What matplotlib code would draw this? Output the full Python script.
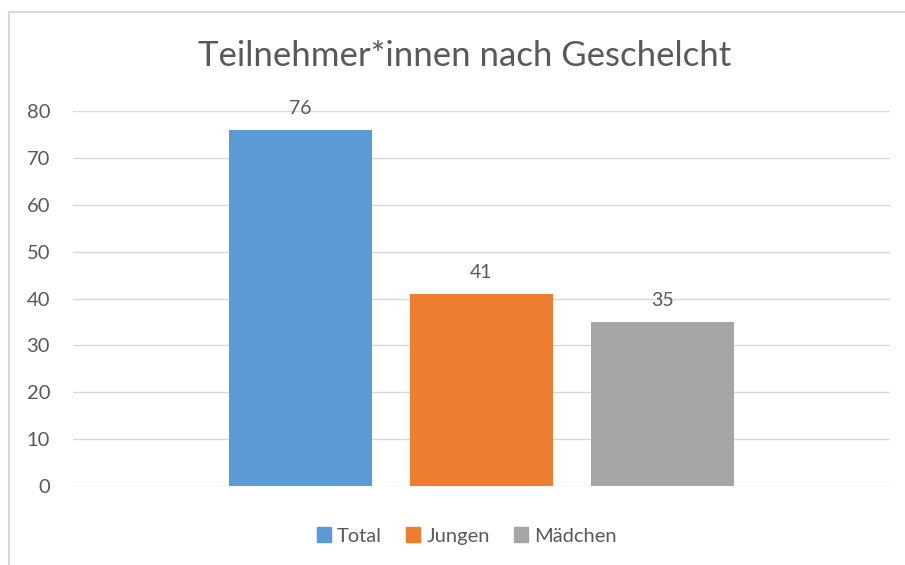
import numpy as np
import matplotlib.pyplot as plt
from matplotlib.patches import Rectangle, Patch

series = ["Total", "Jungen", "Mädchen"]
values = [76, 41, 35]
colors = ["#5B9BD5", "#ED7D31", "#A5A5A5"]
title = "Teilnehmer*innen nach Geschelcht"
yticks = [0, 10, 20, 30, 40, 50, 60, 70, 80]

plt.rcParams['font.family'] = ['Lato', 'DejaVu Sans']
txt = "#595959"

fig = plt.figure(figsize=(9.05, 5.65), dpi=100)
# chart border (cut off at right and bottom like the screenshot)
fig.patches.append(Rectangle((8.5 / 905, -0.1), 1.2, 1 - 12 / 565 + 0.1,
                             transform=fig.transFigure, fill=False,
                             edgecolor="#D9D9D9", linewidth=1.5))

ax = fig.add_axes([73 / 905, 1 - 486 / 565, 817 / 905, 375 / 565])
x = np.arange(len(values)) - 1
bars = ax.bar(x, values, width=0.79, color=colors, zorder=3)
for b, v in zip(bars, values):
    ax.annotate(str(v), (b.get_x() + b.get_width() / 2, v), xytext=(0, 9),
                textcoords="offset points", ha="center", va="bottom",
                fontsize=14, color=txt)

ax.set_xlim(-2.257, 2.257)
ax.set_ylim(0, 80)
ax.set_yticks(yticks)
ax.set_xticks([])
ax.yaxis.grid(True, color="#D9D9D9", linewidth=1)
ax.set_axisbelow(True)
for s in ax.spines.values():
    s.set_visible(False)
ax.tick_params(axis="y", length=0, labelsize=14.5, labelcolor=txt, pad=16.5)

fig.text(465 / 905, 1 - 56 / 565, title, ha="center", va="center",
         fontsize=25, color=txt)

handles = [Patch(color=c, label=s) for s, c in zip(series, colors)]
fig.legend(handles=handles, loc="center", bbox_to_anchor=(467 / 905, 1 - 536 / 565),
           ncol=3, frameon=False, fontsize=14.5, labelcolor=txt,
           handlelength=0.7, handleheight=0.7, handletextpad=0.3, columnspacing=1.2)

fig.savefig("out.png", dpi=100)
